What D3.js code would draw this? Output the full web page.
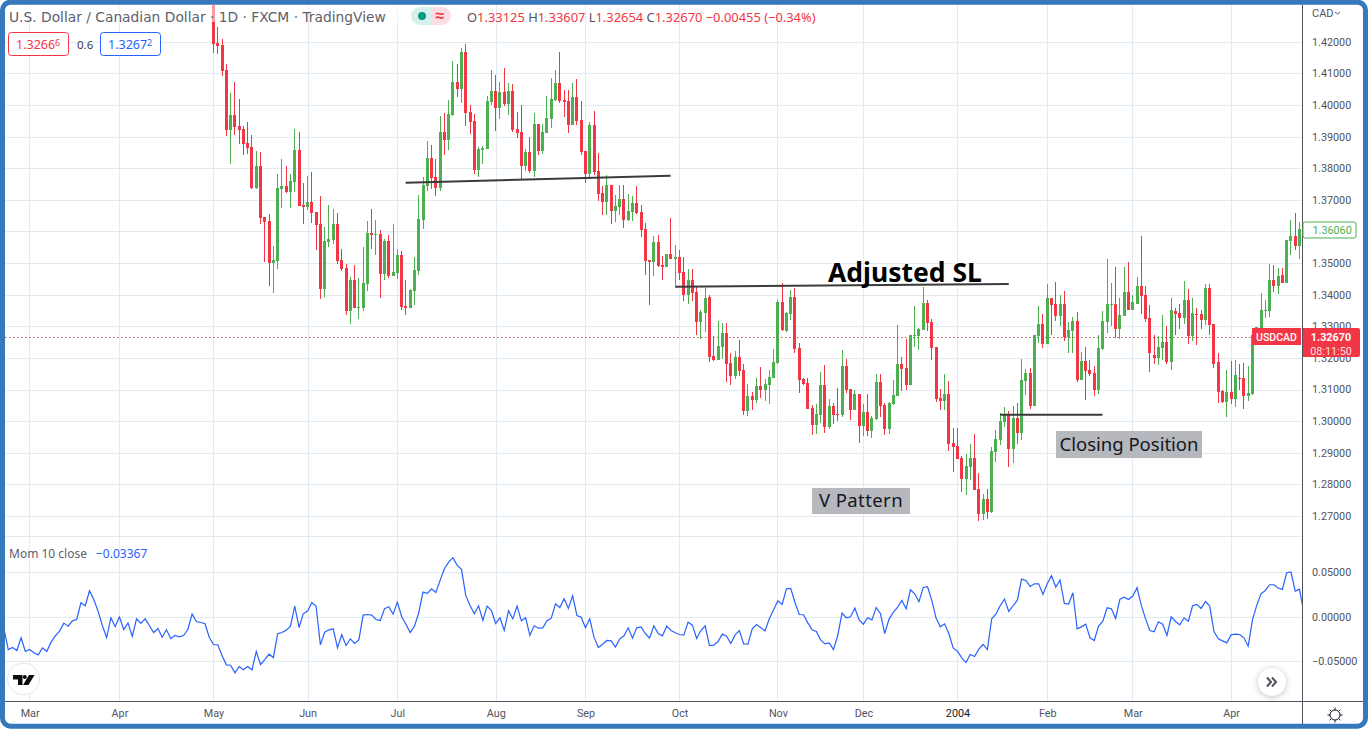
<!DOCTYPE html>
<html>
<head>
<meta charset="utf-8">
<script src="https://cdn.jsdelivr.net/npm/d3@7/dist/d3.min.js"></script>
<style>
  html, body { margin: 0; padding: 0; background: #fff; }
  svg { display: block; }
  text { font-family: "Noto Sans", sans-serif; }
</style>
</head>
<body>
<div id="chart"></div>
<script>
// Candle data, one entry per daily bar
var opens = [
1.4340,1.4196,1.4189,1.4110,1.3921,1.3968,1.3933,1.3924,1.3880,1.3867,
1.3737,1.3807,1.3646,1.3633,1.3500,1.3506,1.3734,1.3744,1.3725,1.3756,
1.3857,1.3684,1.3677,1.3693,1.3661,1.3623,1.3418,1.3567,1.3573,1.3623,
1.3510,1.3484,1.3348,1.3446,1.3358,1.3358,1.3434,1.3595,1.3589,1.3592,
1.3465,1.3570,1.3459,1.3469,1.3525,1.3364,1.3358,1.3412,1.3475,1.3636,
1.3744,1.3832,1.3772,1.3737,1.3914,1.3889,1.3967,1.4072,1.4050,1.4167,
1.3978,1.3949,1.3794,1.3857,1.3861,1.4009,1.4044,1.3990,1.4041,1.4003,
1.4044,1.3924,1.3914,1.3807,1.3851,1.3791,1.3940,1.3854,1.3911,1.3955,
1.4016,1.4069,1.4016,1.4012,1.3937,1.4025,1.3952,1.3854,1.3782,1.3937,
1.3791,1.3722,1.3693,1.3747,1.3665,1.3677,1.3703,1.3636,1.3661,1.3690,
1.3661,1.3608,1.3510,1.3503,1.3567,1.3494,1.3487,1.3529,1.3513,1.3519,
1.3472,1.3399,1.3446,1.3408,1.3314,1.3343,1.3392,1.3207,1.3194,1.3235,
1.3280,1.3185,1.3144,1.3204,1.3163,1.3033,1.3080,1.3068,1.3112,1.3099,
1.3115,1.3137,1.3184,1.3378,1.3286,1.3340,1.3393,1.3232,1.3134,1.3122,
1.3042,1.2989,1.3020,1.3115,1.2982,1.3049,1.3023,1.3020,1.3175,1.3103,
1.3036,1.3087,1.2986,1.3030,1.2970,1.3008,1.3125,1.3052,1.2976,1.3055,
1.3080,1.3182,1.3169,1.3115,1.3270,1.3270,1.3289,1.3374,1.3314,1.3235,
1.3074,1.3065,1.3085,1.2930,1.2920,1.2882,1.2816,1.2854,1.2882,1.2784,
1.2705,1.2753,1.2712,1.2901,1.2939,1.2996,1.3018,1.2911,1.3009,1.2961,
1.3126,1.3151,1.3047,1.3268,1.3306,1.3243,1.3391,1.3369,1.3331,1.3369,
1.3265,1.3284,1.3316,1.3129,1.3189,1.3161,1.3151,1.3097,1.3227,1.3312,
1.3366,1.3372,1.3290,1.3331,1.3407,1.3350,1.3372,1.3426,1.3398,1.3325,
1.3208,1.3199,1.3230,1.3249,1.3186,1.3347,1.3341,1.3325,1.3382,1.3268,
1.3338,1.3338,1.3319,1.3420,1.3306,1.3186,1.3094,1.3059,1.3091,1.3069,
1.3138,1.3138,1.3080,1.3087,1.3270,1.3295,1.3349,1.3349,1.3447,1.3428,
1.3463,1.3438,1.3571,1.3586,1.3555];

var highs = [
1.4360,1.4246,1.4208,1.4129,1.4038,1.4072,1.4019,1.3933,1.3946,1.3905,
1.3854,1.3851,1.3646,1.3655,1.3554,1.3782,1.3829,1.3807,1.3782,1.3924,
1.3914,1.3753,1.3775,1.3788,1.3661,1.3712,1.3614,1.3684,1.3671,1.3658,
1.3544,1.3497,1.3456,1.3493,1.3453,1.3551,1.3633,1.3671,1.3636,1.3604,
1.3576,1.3589,1.3623,1.3544,1.3538,1.3446,1.3418,1.3519,1.3715,1.3772,
1.3886,1.3873,1.3829,1.3965,1.3974,1.4016,1.4139,1.4129,1.4180,1.4193,
1.4000,1.3971,1.3867,1.3870,1.4028,1.4110,1.4095,1.4072,1.4117,1.4069,
1.4066,1.3978,1.4000,1.3861,1.3899,1.3974,1.3940,1.3940,1.4028,1.4085,
1.4110,1.4167,1.4047,1.4047,1.4069,1.4082,1.4012,1.3854,1.3946,1.3981,
1.3848,1.3744,1.3778,1.3747,1.3715,1.3747,1.3747,1.3718,1.3712,1.3744,
1.3684,1.3627,1.3510,1.3586,1.3589,1.3522,1.3529,1.3642,1.3557,1.3541,
1.3519,1.3481,1.3481,1.3424,1.3352,1.3422,1.3400,1.3270,1.3318,1.3311,
1.3311,1.3215,1.3223,1.3257,1.3182,1.3118,1.3093,1.3137,1.3172,1.3134,
1.3163,1.3229,1.3384,1.3438,1.3346,1.3416,1.3422,1.3248,1.3137,1.3137,
1.3052,1.3055,1.3156,1.3178,1.3071,1.3058,1.3106,1.3226,1.3197,1.3103,
1.3099,1.3087,1.3055,1.3087,1.3017,1.3150,1.3150,1.3058,1.3061,1.3131,
1.3305,1.3204,1.3261,1.3273,1.3365,1.3295,1.3425,1.3384,1.3324,1.3235,
1.3103,1.3150,1.3126,1.2977,1.2977,1.2889,1.2895,1.2927,1.2958,1.2835,
1.2769,1.2784,1.2917,1.2971,1.3025,1.3044,1.3031,1.3047,1.3056,1.3195,
1.3164,1.3167,1.3271,1.3363,1.3338,1.3433,1.3391,1.3439,1.3398,1.3410,
1.3312,1.3328,1.3344,1.3218,1.3233,1.3192,1.3173,1.3274,1.3347,1.3512,
1.3436,1.3486,1.3391,1.3486,1.3502,1.3398,1.3455,1.3586,1.3426,1.3366,
1.3271,1.3268,1.3335,1.3300,1.3391,1.3357,1.3372,1.3442,1.3417,1.3388,
1.3357,1.3353,1.3433,1.3433,1.3306,1.3214,1.3097,1.3161,1.3189,1.3192,
1.3180,1.3183,1.3175,1.3273,1.3299,1.3406,1.3384,1.3498,1.3495,1.3485,
1.3485,1.3574,1.3637,1.3659,1.3631];

var lows = [
1.4164,1.4161,1.4091,1.3902,1.3813,1.3905,1.3876,1.3842,1.3845,1.3734,
1.3734,1.3623,1.3503,1.3427,1.3405,1.3481,1.3674,1.3722,1.3674,1.3725,
1.3680,1.3623,1.3668,1.3627,1.3541,1.3386,1.3393,1.3551,1.3560,1.3497,
1.3475,1.3336,1.3307,1.3358,1.3323,1.3348,1.3412,1.3544,1.3525,1.3389,
1.3446,1.3453,1.3459,1.3450,1.3352,1.3336,1.3358,1.3367,1.3462,1.3608,
1.3728,1.3734,1.3712,1.3728,1.3842,1.3857,1.3965,1.4025,1.4006,1.3933,
1.3908,1.3782,1.3772,1.3813,1.3861,1.4000,1.3918,1.3955,1.3997,1.3968,
1.3914,1.3895,1.3763,1.3791,1.3785,1.3772,1.3842,1.3845,1.3911,1.3927,
1.4012,1.4006,1.3962,1.3911,1.3937,1.3937,1.3842,1.3753,1.3766,1.3778,
1.3696,1.3652,1.3652,1.3623,1.3630,1.3652,1.3611,1.3633,1.3633,1.3655,
1.3582,1.3462,1.3367,1.3459,1.3487,1.3446,1.3487,1.3513,1.3424,1.3446,
1.3380,1.3370,1.3380,1.3273,1.3261,1.3283,1.3188,1.3191,1.3194,1.3197,
1.3125,1.3115,1.3134,1.3144,1.3020,1.3017,1.3036,1.3058,1.3073,1.3065,
1.3055,1.3137,1.3182,1.3286,1.3283,1.3321,1.3216,1.3090,1.3115,1.3039,
1.2957,1.2960,1.2995,1.2963,1.2976,1.2992,1.3001,1.3014,1.3090,1.3004,
1.3036,1.2932,1.2954,1.2954,1.2948,1.3004,1.3014,1.2957,1.2960,1.3052,
1.3080,1.3096,1.3099,1.3115,1.3235,1.3226,1.3289,1.3286,1.3194,1.3061,
1.3036,1.3036,1.2904,1.2838,1.2879,1.2775,1.2765,1.2813,1.2781,1.2683,
1.2686,1.2689,1.2708,1.2870,1.2923,1.2980,1.2854,1.2867,1.2927,1.2939,
1.3082,1.3037,1.3047,1.3246,1.3230,1.3243,1.3274,1.3316,1.3300,1.3252,
1.3214,1.3214,1.3123,1.3129,1.3066,1.3142,1.3078,1.3085,1.3224,1.3278,
1.3300,1.3262,1.3259,1.3331,1.3350,1.3350,1.3369,1.3338,1.3312,1.3154,
1.3180,1.3176,1.3192,1.3180,1.3161,1.3271,1.3290,1.3306,1.3243,1.3255,
1.3240,1.3290,1.3303,1.3274,1.3167,1.3056,1.3056,1.3012,1.3053,1.3044,
1.3097,1.3037,1.3065,1.3084,1.3270,1.3295,1.3327,1.3330,1.3409,1.3403,
1.3438,1.3438,1.3526,1.3542,1.3514];

var closes = [
1.4193,1.4186,1.4107,1.3921,1.3968,1.3930,1.3921,1.3876,1.3864,1.3737,
1.3807,1.3642,1.3630,1.3500,1.3510,1.3737,1.3744,1.3724,1.3759,1.3857,
1.3680,1.3677,1.3693,1.3658,1.3620,1.3418,1.3570,1.3576,1.3623,1.3506,
1.3481,1.3348,1.3446,1.3358,1.3361,1.3437,1.3595,1.3589,1.3592,1.3465,
1.3570,1.3459,1.3472,1.3525,1.3361,1.3358,1.3415,1.3478,1.3639,1.3747,
1.3832,1.3769,1.3737,1.3914,1.3889,1.3971,1.4072,1.4050,1.4167,1.3974,
1.3946,1.3794,1.3861,1.3864,1.4012,1.4044,1.3990,1.4041,1.4003,1.4044,
1.3921,1.3911,1.3807,1.3851,1.3791,1.3940,1.3854,1.3914,1.3959,1.4019,
1.4069,1.4012,1.4009,1.3937,1.4025,1.3949,1.3851,1.3782,1.3937,1.3788,
1.3718,1.3693,1.3747,1.3665,1.3680,1.3703,1.3636,1.3665,1.3690,1.3658,
1.3604,1.3506,1.3503,1.3567,1.3491,1.3487,1.3529,1.3513,1.3519,1.3469,
1.3399,1.3446,1.3405,1.3314,1.3346,1.3390,1.3204,1.3193,1.3238,1.3280,
1.3182,1.3144,1.3204,1.3159,1.3033,1.3080,1.3068,1.3112,1.3099,1.3118,
1.3140,1.3188,1.3378,1.3289,1.3343,1.3393,1.3229,1.3131,1.3118,1.3039,
1.2989,1.3023,1.3115,1.2982,1.3049,1.3020,1.3020,1.3175,1.3099,1.3036,
1.3087,1.2986,1.3030,1.2970,1.3011,1.3125,1.3049,1.2976,1.3058,1.3084,
1.3182,1.3166,1.3115,1.3273,1.3273,1.3292,1.3374,1.3311,1.3232,1.3071,
1.3065,1.3087,1.2927,1.2917,1.2879,1.2816,1.2857,1.2882,1.2781,1.2705,
1.2753,1.2712,1.2904,1.2942,1.3000,1.3018,1.2911,1.3009,1.2961,1.3129,
1.3151,1.3047,1.3271,1.3306,1.3243,1.3391,1.3366,1.3331,1.3369,1.3265,
1.3287,1.3316,1.3129,1.3189,1.3157,1.3148,1.3097,1.3230,1.3316,1.3369,
1.3372,1.3290,1.3335,1.3407,1.3350,1.3376,1.3426,1.3395,1.3322,1.3214,
1.3199,1.3233,1.3249,1.3186,1.3353,1.3338,1.3325,1.3382,1.3268,1.3341,
1.3335,1.3319,1.3420,1.3303,1.3180,1.3091,1.3059,1.3091,1.3069,1.3145,
1.3135,1.3078,1.3090,1.3273,1.3299,1.3352,1.3352,1.3447,1.3428,1.3460,
1.3438,1.3574,1.3586,1.3555,1.3608];

// Momentum starts 49 bars before the first candle
var momStartBar = -49;
var momValues = [
-0.0135,-0.0368,-0.0345,-0.0379,-0.0236,-0.0390,-0.0367,-0.0405,-0.0428,-0.0349,
-0.0390,-0.0285,-0.0214,-0.0161,-0.0071,-0.0105,-0.0045,-0.0030,0.0158,0.0124,
0.0293,0.0195,0.0064,-0.0098,-0.0233,-0.0011,-0.0109,0.0000,-0.0143,-0.0068,
-0.0221,-0.0023,-0.0075,-0.0023,-0.0098,-0.0176,-0.0131,-0.0229,-0.0146,-0.0244,
-0.0210,-0.0225,-0.0210,-0.0143,0.0030,-0.0053,-0.0064,-0.0075,-0.0229,
-0.0311,-0.0315,-0.0435,-0.0540,-0.0544,-0.0630,-0.0559,-0.0596,-0.0559,-0.0596,
-0.0390,-0.0536,-0.0480,-0.0420,-0.0458,-0.0191,-0.0176,-0.0150,-0.0105,0.0120,
-0.0120,0.0034,0.0064,0.0158,0.0120,-0.0315,-0.0173,-0.0146,-0.0135,-0.0349,
-0.0203,-0.0323,-0.0248,-0.0300,-0.0259,0.0019,0.0026,0.0019,-0.0030,-0.0041,
0.0090,0.0113,0.0030,0.0165,0.0004,-0.0083,-0.0176,-0.0105,0.0045,0.0278,
0.0263,0.0315,0.0274,0.0409,0.0540,0.0615,0.0664,0.0578,0.0533,0.0240,
0.0128,0.0034,0.0124,-0.0041,0.0120,0.0071,-0.0075,-0.0011,-0.0154,0.0068,
-0.0023,0.0120,-0.0045,-0.0011,-0.0210,-0.0101,-0.0128,-0.0124,-0.0045,-0.0015,
0.0146,0.0105,0.0203,0.0094,0.0236,0.0015,-0.0004,-0.0124,-0.0023,-0.0229,
-0.0345,-0.0308,-0.0266,-0.0270,-0.0341,-0.0251,-0.0214,-0.0124,-0.0240,-0.0124,
-0.0113,-0.0188,-0.0240,-0.0101,-0.0188,-0.0214,-0.0105,-0.0154,-0.0180,-0.0199,
-0.0206,-0.0060,-0.0094,-0.0244,-0.0154,-0.0101,-0.0323,-0.0319,-0.0278,-0.0195,
-0.0218,-0.0300,-0.0203,-0.0154,-0.0304,-0.0308,-0.0135,-0.0086,-0.0124,-0.0158,
-0.0023,0.0079,0.0180,0.0139,0.0315,0.0319,0.0161,0.0026,0.0023,-0.0068,
-0.0146,-0.0165,-0.0259,-0.0304,-0.0293,-0.0368,-0.0210,0.0041,-0.0011,0.0000,
0.0098,-0.0034,-0.0083,-0.0011,-0.0034,0.0105,0.0034,-0.0188,-0.0026,0.0049,
0.0109,0.0184,0.0090,0.0304,0.0259,0.0169,0.0330,0.0338,0.0184,-0.0015,
-0.0113,-0.0079,-0.0191,-0.0349,-0.0386,-0.0461,-0.0514,-0.0424,-0.0446,-0.0364,
-0.0311,-0.0368,-0.0023,0.0030,0.0124,0.0199,0.0060,0.0124,0.0184,0.0424,
0.0409,0.0341,0.0371,0.0371,0.0251,0.0371,0.0461,0.0334,0.0413,0.0150,
0.0143,0.0270,-0.0135,-0.0113,-0.0083,-0.0236,-0.0266,-0.0105,-0.0049,0.0101,
0.0090,-0.0019,0.0199,0.0221,0.0195,0.0233,0.0326,0.0128,-0.0023,-0.0154,
-0.0169,-0.0056,-0.0083,-0.0210,0.0000,-0.0053,-0.0090,-0.0011,-0.0049,0.0124,
0.0139,0.0094,0.0173,0.0120,-0.0165,-0.0248,-0.0270,-0.0293,-0.0203,-0.0195,
-0.0199,-0.0236,-0.0330,-0.0034,0.0128,0.0259,0.0296,0.0360,0.0360,0.0323,
0.0308,0.0495,0.0503,0.0289,0.0311,0.0049];

// Time axis, bar number of each month start
var monthLabels = ["Mar","Apr","May","Jun","Jul","Aug","Sep","Oct","Nov","Dec","2004","Feb","Mar","Apr"];
var monthBars = [-43,-22,0,22,43,66,87,109,132,152,174,195,215,238];

var priceTicks = [1.27,1.28,1.29,1.30,1.31,1.32,1.33,1.34,1.35,1.36,1.37,1.38,1.39,1.40,1.41,1.42];
var momTicks = [-0.05,0,0.05];

var lastClose = 1.3267;
var lineValue = 1.3606;

// Hand drawn lines: bar and price of both ends
var drawnLines = [
  {x1: 44.95, p1: 1.3754, x2: 106.9, p2: 1.3776},
  {x1: 108, p1: 1.3425, x2: 186, p2: 1.3434},
  {x1: 184, p1: 1.3020, x2: 207.9, p2: 1.3020}
];

var width = 1369;
var height = 729;
var left = 5;
var right = 1302;
var paneSplit = 536;
var timeY = 701;

var green = "#4caf50";
var red = "#f23645";
var blue = "#2962ff";
var grid = "#e1ebf2";
var axisText = "#50535e";

var svg = d3.select("#chart").append("svg")
  .attr("width", width)
  .attr("height", height);

var xScale = d3.scaleLinear().domain([0, opens.length - 1]).range([213.5, 1299.5]);
var yScale = d3.scaleLinear().domain([1.27, 1.42]).range([516, 41.7]);
var momScale = d3.scaleLinear().domain([-0.05, 0.05]).range([661.3, 572.3]);

var defs = svg.append("defs");
defs.append("clipPath").attr("id", "priceClip").append("rect")
  .attr("x", left).attr("y", 5).attr("width", right - left).attr("height", paneSplit - 5);
defs.append("clipPath").attr("id", "momClip").append("rect")
  .attr("x", left).attr("y", paneSplit).attr("width", right - left).attr("height", timeY - paneSplit);

/* Grid */
var gridG = svg.append("g").attr("shape-rendering", "crispEdges").attr("stroke", grid);
gridG.selectAll(".vgrid").data(monthBars).enter().append("line")
  .attr("x1", d => Math.floor(xScale(d)) + 0.5 + (d == 22 || d == 66 ? 1 : 0))
  .attr("x2", d => Math.floor(xScale(d)) + 0.5 + (d == 22 || d == 66 ? 1 : 0))
  .attr("y1", 5).attr("y2", timeY);
gridG.selectAll(".hgrid").data(priceTicks).enter().append("line")
  .attr("x1", left).attr("x2", right)
  .attr("y1", d => Math.round(yScale(d)) + 0.5)
  .attr("y2", d => Math.round(yScale(d)) + 0.5);
gridG.selectAll(".mgrid").data(momTicks).enter().append("line")
  .attr("x1", left).attr("x2", right)
  .attr("y1", d => Math.round(momScale(d)) + 0.5)
  .attr("y2", d => Math.round(momScale(d)) + 0.5);
gridG.append("line").attr("x1", left).attr("x2", right).attr("y1", paneSplit + 0.5).attr("y2", paneSplit + 0.5);

/* Last price dotted line */
svg.append("line")
  .attr("x1", left).attr("x2", 1252)
  .attr("y1", Math.round(yScale(lastClose)) + 0.5).attr("y2", Math.round(yScale(lastClose)) + 0.5)
  .attr("stroke", red).attr("stroke-dasharray", "1.5 2.5");

/* Candles */
var candles = svg.append("g")
  .attr("clip-path", "url(#priceClip)")
  .attr("shape-rendering", "crispEdges")
  .selectAll("g").data(d3.range(opens.length)).enter().append("g")
  .attr("fill", i => closes[i] >= opens[i] ? green : red);

candles.append("rect")
  .attr("x", i => Math.floor(xScale(i)))
  .attr("width", 1)
  .attr("y", i => yScale(highs[i]))
  .attr("height", i => yScale(lows[i]) - yScale(highs[i]));

candles.append("rect")
  .attr("x", i => Math.floor(xScale(i)) - 1)
  .attr("width", 3)
  .attr("y", i => yScale(Math.max(opens[i], closes[i])))
  .attr("height", i => Math.max(1, Math.abs(yScale(opens[i]) - yScale(closes[i]))));

/* Momentum line */
var momLine = d3.line()
  .x((d, i) => xScale(momStartBar + i))
  .y(d => momScale(d));

svg.append("path")
  .datum(momValues)
  .attr("clip-path", "url(#momClip)")
  .attr("fill", "none")
  .attr("stroke", blue)
  .attr("stroke-width", 1.2)
  .attr("d", momLine);

/* Drawn trend lines and notes */
svg.append("g").selectAll("line").data(drawnLines).enter().append("line")
  .attr("x1", d => xScale(d.x1)).attr("x2", d => xScale(d.x2))
  .attr("y1", d => yScale(d.p1)).attr("y2", d => yScale(d.p2))
  .attr("stroke", "#3a3a3a")
  .attr("stroke-width", 2);

svg.append("text")
  .attr("x", 828).attr("y", 282)
  .attr("font-size", 26.5).attr("font-weight", 700)
  .attr("fill", "#000")
  .text("Adjusted SL");

function note(x, y, w, h, label, spacing) {
  svg.append("rect").attr("x", x).attr("y", y).attr("width", w).attr("height", h).attr("fill", "#b6b8bd");
  svg.append("text")
    .attr("x", x + w / 2).attr("y", y + h / 2 + 6)
    .attr("text-anchor", "middle")
    .attr("font-size", 18.5)
    .attr("letter-spacing", spacing)
    .attr("fill", "#131722")
    .text(label);
}
note(812, 488, 98, 26, "V Pattern", 0.4);
note(1056, 431, 146, 27, "Closing Position", 0);

/* Legend veil over the top row */
svg.append("rect").attr("x", left).attr("y", 5).attr("width", 400).attr("height", 17).attr("fill", "#fff").attr("opacity", 0.5);

/* Axes */
var priceAxis = d3.axisRight(yScale)
  .tickValues(priceTicks)
  .tickSize(0)
  .tickPadding(10)
  .tickFormat(d3.format(".5f"));
var momAxis = d3.axisRight(momScale)
  .tickValues(momTicks)
  .tickSize(0)
  .tickPadding(10)
  .tickFormat(d3.format(".5f"));
var timeAxis = d3.axisBottom(xScale)
  .tickValues(monthBars)
  .tickSize(0)
  .tickPadding(8)
  .tickFormat((d, i) => monthLabels[i]);

function styleAxis(g) {
  g.select(".domain").remove();
  g.selectAll("text")
    .attr("fill", axisText)
    .style("font-family", "Roboto, sans-serif")
    .style("font-size", "10.8px");
}

svg.append("g").attr("transform", `translate(${right},0)`).call(priceAxis).call(styleAxis);
svg.append("g").attr("transform", `translate(${right},0)`).call(momAxis).call(styleAxis);
svg.append("g").attr("transform", `translate(0,${timeY})`).call(timeAxis).call(styleAxis)
  .selectAll("text").attr("fill", (d, i) => monthLabels[i] == "2004" ? "#131722" : axisText);

svg.append("line").attr("x1", left).attr("x2", 1364).attr("y1", timeY + 0.5).attr("y2", timeY + 0.5)
  .attr("stroke", "#50535e").attr("shape-rendering", "crispEdges");
svg.append("line").attr("x1", right + 0.5).attr("x2", right + 0.5).attr("y1", 5).attr("y2", 726)
  .attr("stroke", "#50535e").attr("shape-rendering", "crispEdges");

svg.append("text").attr("x", 1312).attr("y", 17).attr("font-size", 11).style("font-family", "Roboto, sans-serif")
  .attr("fill", axisText).text("CAD");
svg.append("path").attr("d", "M1335 12 l2.5 2 l2.5 -2").attr("fill", "none").attr("stroke", axisText);

/* Price tags */
svg.append("rect").attr("x", 1303).attr("y", 222).attr("width", 53).attr("height", 16).attr("rx", 2)
  .attr("fill", "#fff").attr("stroke", green);
svg.append("text").attr("x", 1312.5).attr("y", yScale(lineValue) + 4).attr("font-size", 10.8)
  .style("font-family", "Roboto, sans-serif").attr("fill", green).text(d3.format(".5f")(lineValue));

svg.append("rect").attr("x", 1252).attr("y", 328).attr("width", 49).attr("height", 17).attr("fill", red);
svg.append("text").attr("x", 1276.5).attr("y", 341).attr("text-anchor", "middle").attr("font-size", 10.5)
  .attr("font-weight", 500).style("font-family", "Roboto, sans-serif").attr("fill", "#fff").text("USDCAD");
svg.append("path").attr("d", "M1303 328 H1358 a2 2 0 0 1 2 2 V355 a2 2 0 0 1 -2 2 H1303 Z").attr("fill", red);
svg.append("text").attr("x", 1331).attr("y", 341).attr("text-anchor", "middle").attr("font-size", 10.8)
  .attr("font-weight", 700).style("font-family", "Roboto, sans-serif").attr("fill", "#fff").text(d3.format(".5f")(lastClose));
svg.append("text").attr("x", 1331).attr("y", 354.5).attr("text-anchor", "middle").attr("font-size", 10.8)
  .style("font-family", "Roboto, sans-serif").attr("fill", "#fff").attr("fill-opacity", 0.85).text("08:11:50");

/* Header text */
svg.append("text").attr("x", 9).attr("y", 21.5).attr("font-size", 13.8).style("font-family", "DejaVu Sans, sans-serif").attr("fill", "#5d606b")
  .text("U.S. Dollar / Canadian Dollar · 1D · FXCM · TradingView");

svg.append("path").attr("d", "M420 7 H431 V25 H420 a9 9 0 0 1 0 -18 Z").attr("fill", "#d8f0ec");
svg.append("path").attr("d", "M431 7 H442 a9 9 0 0 1 0 18 H431 Z").attr("fill", "#fbdde3");
svg.append("circle").attr("cx", 422).attr("cy", 16).attr("r", 4).attr("fill", "#089981");
svg.append("text").attr("x", 440).attr("y", 21).attr("text-anchor", "middle").attr("font-size", 16)
  .attr("font-weight", 700).attr("fill", red).text("≈");

var ohlcText = svg.append("text").attr("x", 467).attr("y", 21.5).attr("font-size", 12.9).attr("fill", red);
ohlcText.append("tspan").attr("fill", axisText).text("O");
ohlcText.append("tspan").text("1.33125 ");
ohlcText.append("tspan").attr("fill", axisText).text("H");
ohlcText.append("tspan").text("1.33607 ");
ohlcText.append("tspan").attr("fill", axisText).text("L");
ohlcText.append("tspan").text("1.32654 ");
ohlcText.append("tspan").attr("fill", axisText).text("C");
ohlcText.append("tspan").text("1.32670 −0.00455 (−0.34%)");

function quoteBox(x, w, color, main, small) {
  svg.append("rect").attr("x", x + 0.5).attr("y", 32.5).attr("width", w).attr("height", 23).attr("rx", 3)
    .attr("fill", "#fff").attr("stroke", color);
  var t = svg.append("text").attr("x", x + 8).attr("y", 49).attr("font-size", 12.5).attr("fill", color);
  t.append("tspan").text(main);
  t.append("tspan").attr("font-size", 9).attr("dy", -3).text(small);
}
quoteBox(8, 60, red, "1.3266", "6");
svg.append("text").attr("x", 77).attr("y", 49).attr("font-size", 11.5).attr("fill", "#3a3d45").text("0.6");
quoteBox(100, 60, blue, "1.3267", "2");

/* Momentum legend */
svg.append("text").attr("x", 9).attr("y", 558).attr("font-size", 12).attr("fill", "#5d606b").text("Mom 10 close");
svg.append("text").attr("x", 96).attr("y", 558).attr("font-size", 12).attr("fill", blue).text("−0.03367");

/* Logo, scroll button and settings icon */
svg.append("circle").attr("cx", 23.5).attr("cy", 679).attr("r", 16).attr("fill", "#fff").attr("stroke", "#e6e6e6");
svg.append("path").attr("d", "M13 675 H22.5 V685 H18 V679.5 H13 Z M29 675 H34.5 L28.5 685 H23 Z").attr("fill", "#0c0c0c");
svg.append("circle").attr("cx", 24.8).attr("cy", 677).attr("r", 2).attr("fill", "#0c0c0c");

svg.append("circle").attr("cx", 1272).attr("cy", 682).attr("r", 14).attr("fill", "#fff")
  .style("filter", "drop-shadow(0 1px 3px rgba(0,0,0,0.25))");
svg.append("path").attr("d", "M1267 677.5 L1271 682 L1267 686.5 M1272 677.5 L1276 682 L1272 686.5")
  .attr("fill", "none").attr("stroke", "#50535e").attr("stroke-width", 2);

svg.append("circle").attr("cx", 1335).attr("cy", 715).attr("r", 5).attr("fill", "none").attr("stroke", "#131722");
svg.append("g").attr("stroke", "#131722").selectAll("line").data(d3.range(8)).enter().append("line")
  .attr("x1", i => 1335 + 5 * Math.cos(i * Math.PI / 4))
  .attr("y1", i => 715 + 5 * Math.sin(i * Math.PI / 4))
  .attr("x2", i => 1335 + 7.5 * Math.cos(i * Math.PI / 4))
  .attr("y2", i => 715 + 7.5 * Math.sin(i * Math.PI / 4));

/* Blue window frame */
svg.append("rect").attr("x", 2.5).attr("y", 2.2).attr("width", 1363).attr("height", 724)
  .attr("rx", 8).attr("fill", "none").attr("stroke", "#3578bb").attr("stroke-width", 5);
</script>
</body>
</html>
